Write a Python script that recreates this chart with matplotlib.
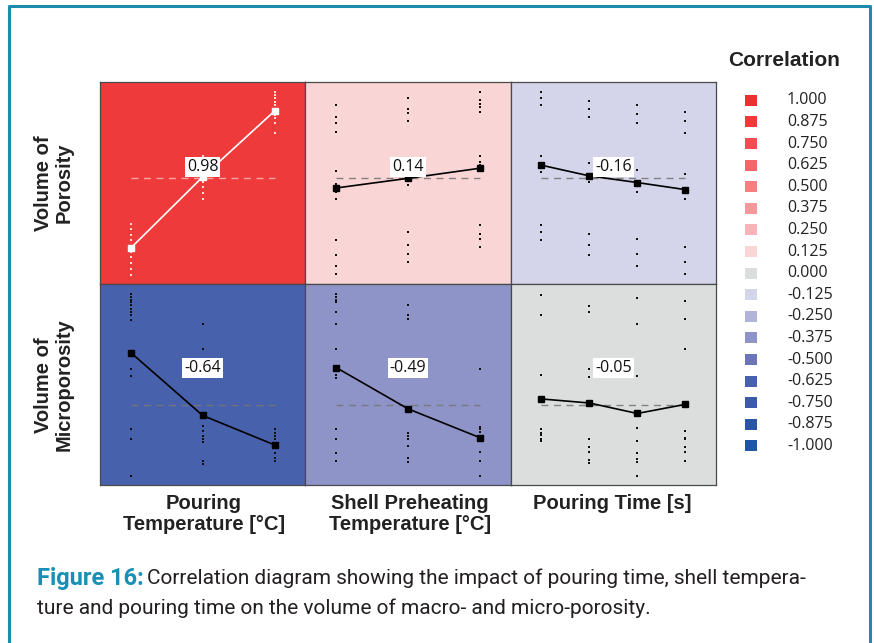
import numpy as np
import matplotlib
matplotlib.use('Agg')
import matplotlib.pyplot as plt
from matplotlib.lines import Line2D

# ---- data (relative response, 0-100) ----
col_labels = ['Pouring\nTemperature [°C]', 'Shell Preheating\nTemperature [°C]', 'Pouring Time [s]']
row_labels = ['Volume of\nPorosity', 'Volume of\nMicroporosity']
corr = [[0.98, 0.14, -0.16],
        [-0.64, -0.49, -0.05]]

# level means
means_por = [[17.6, 52.9, 85.6],
             [47.4, 52.2, 57.2],
             [58.7, 53.4, 50.1, 46.6]]
means_mic = [[65.7, 34.5, 19.9],
             [58.3, 37.8, 23.5],
             [42.7, 40.7, 35.5, 40.0]]
grand_por = 52.2
grand_mic = 39.7

# individual observations per level
obs_por = [
    [[29.5, 26.8, 23.9, 21.4, 18.4, 15.6, 13.1, 10.1, 7.3, 4.3],
     [63.2, 61.2, 58.7, 50.7, 50.2, 47.8, 44.8, 41.8],
     [95.2, 93.5, 91.9, 90.2, 88.6, 85.6, 83.6, 81.9, 79.5, 74.5]],
    [[88.6, 82.7, 79.8, 75.0, 55.9, 49.6, 45.4, 41.8, 21.4, 13.9, 8.6, 4.8],
     [91.9, 86.4, 84.4, 80.6, 52.4, 48.8, 25.5, 18.9, 14.8, 10.6],
     [95.2, 91.0, 89.1, 87.7, 85.2, 63.2, 60.3, 58.7, 28.9, 24.4, 22.2, 18.1]],
    [[95.2, 91.9, 88.6, 63.2, 58.7, 55.4, 29.2, 25.5, 21.4],
     [90.7, 86.4, 82.4, 59.9, 50.4, 24.4, 18.9, 13.9],
     [88.6, 84.1, 79.5, 56.2, 45.4, 22.2, 14.8, 8.5],
     [84.9, 80.6, 74.8, 54.2, 41.8, 18.1, 10.6, 4.5]],
]
obs_mic = [
    [[94.6, 93.3, 92.0, 90.7, 89.2, 87.5, 85.9, 84.2, 82.1, 57.5, 53.9, 27.6, 23.0, 4.6],
     [79.7, 67.3, 34.1, 29.2, 26.7, 24.3, 22.7, 21.3, 12.0, 10.3],
     [27.9, 26.0, 24.3, 22.7, 21.0, 18.6, 16.1, 13.6, 12.0]],
    [[94.6, 93.3, 92.0, 90.8, 85.9, 79.7, 67.3, 58.0, 54.7, 53.1, 27.9, 23.0, 16.1, 12.0],
     [89.2, 84.6, 82.3, 37.4, 25.6, 24.3, 23.0, 19.4, 13.6, 11.2],
     [57.5, 28.9, 27.6, 26.3, 23.5, 16.4, 12.0, 4.6]],
    [[94.4, 84.2, 54.7, 42.7, 27.9, 26.0, 24.6, 23.0, 21.7],
     [88.8, 85.7, 57.5, 53.4, 40.7, 23.0, 19.1, 16.4, 12.5, 10.7],
     [92.8, 79.7, 53.9, 35.5, 28.4, 21.8, 15.8, 13.1, 11.2, 4.6],
     [91.1, 82.3, 67.3, 40.0, 26.7, 23.5, 22.7, 19.1, 16.4, 12.0]],
]

legend_vals = [1.0, 0.875, 0.75, 0.625, 0.5, 0.375, 0.25, 0.125, 0.0,
               -0.125, -0.25, -0.375, -0.5, -0.625, -0.75, -0.875, -1.0]
legend_cols = ['#EE2E2F', '#EF3A3B', '#F04E50', '#F26668', '#F47F81', '#F5989A',
               '#F7B4B6', '#F9D5D6', '#DCDEDD', '#D4D5EA', '#B1B4D9', '#8E94C8',
               '#6D75B9', '#4861AC', '#3D5AA8', '#2956A5', '#1F56A6']


def bin_colour(rho):
    # colour of the legend bin, truncated toward zero
    b = np.fix(rho / 0.125) * 0.125
    return legend_cols[int(np.argmin(np.abs(np.array(legend_vals) - b)))]


fig = plt.figure(figsize=(8.74, 6.43), dpi=100)
gs = fig.add_gridspec(2, 3, left=100/874, right=716/874, top=1-82/643,
                      bottom=1-485/643, wspace=0, hspace=0)

means = [means_por, means_mic]
obs = [obs_por, obs_mic]
grand = [grand_por, grand_mic]

for r in range(2):
    for c in range(3):
        ax = fig.add_subplot(gs[r, c])
        rho = corr[r][c]
        ax.set_facecolor(bin_colour(rho))
        m = means[r][c]
        n = len(m)
        x = np.arange(n)
        pad = 0.15 * (n - 1) / 0.7
        ink = 'white' if rho > 0.8 else 'black'
        dot = '#FAD8D8' if rho > 0.8 else '#111111'
        for i, ys in enumerate(obs[r][c]):
            ax.scatter(np.full(len(ys), i), ys, s=1.2, color=dot, marker='s',
                       linewidths=0, zorder=2)
        dash = '#F7B0B0' if rho > 0.8 else '#777777'
        ax.plot([0, n - 1], [grand[r], grand[r]], ls=(0, (5, 4)), lw=1.0,
                color=dash, alpha=0.9, zorder=1)
        ax.plot(x, m, color=ink, lw=1.2, marker='s', ms=4, zorder=3)
        ax.text(0.5, 0.58, f'{rho:.2f}', transform=ax.transAxes, ha='center',
                va='center', fontsize=11.5, family='Open Sans', color='#111111',
                bbox=dict(facecolor='white', edgecolor='none', pad=1.5), zorder=4)
        ax.set_xlim(-pad, n - 1 + pad)
        ax.set_ylim(0, 100)
        ax.set_xticks([])
        ax.set_yticks([])
        for s in ax.spines.values():
            s.set_color('#4a4a4a')
            s.set_linewidth(0.9)

# axis titles
col_x = [204, 410, 612]
for cx, lab in zip(col_x, col_labels):
    fig.text(cx/874, 1-494/643, lab, ha='center', va='top', fontsize=14.5,
             fontweight='bold', family='Liberation Sans', color='#222222',
             linespacing=1.12)
row_y = [183, 385]
for ry, lab in zip(row_y, row_labels):
    fig.text(54/874, 1-ry/643, lab, ha='center', va='center', rotation=90,
             fontsize=14.5, fontweight='bold', family='Liberation Sans',
             color='#222222', linespacing=1.12)

# legend
fig.text(784/874, 1-61/643, 'Correlation', ha='center', va='center',
         fontsize=15, fontweight='bold', family='Liberation Sans', color='#222222')
for k, (v, col) in enumerate(zip(legend_vals, legend_cols)):
    yy = 1 - (100.3 + k * 21.6) / 643
    fig.patches.append(plt.Rectangle((745/874, yy - 5.5/643), 12/874, 11/643,
                                     transform=fig.transFigure, facecolor=col,
                                     edgecolor='none'))
    fig.text(787/874, yy, f'{v:.3f}', ha='left', va='center', fontsize=11.5,
             family='Open Sans', color='#222222')

# frame
teal = '#1B8CAE'
fig.lines.append(Line2D([8.5/874, 8.5/874, 869.5/874, 869.5/874],
                        [0, 1-6/643, 1-6/643, 0], transform=fig.transFigure,
                        color=teal, lw=2.2))

# caption
cap_font = 'Roboto'
t1 = fig.text(37/874, 1-578/643, 'Figure 16:', ha='left', va='center',
              fontsize=17, fontweight='bold', family=cap_font, color='#1A8FB5')
fig.canvas.draw()
bb = t1.get_window_extent(renderer=fig.canvas.get_renderer())
fig.text((bb.x1 + 3) / 874, 1-578/643,
         'Correlation diagram showing the impact of pouring time, shell tempera-',
         ha='left', va='center', fontsize=15, family=cap_font, color='#231F20')
fig.text(37/874, 1-608/643,
         'ture and pouring time on the volume of macro- and micro-porosity.',
         ha='left', va='center', fontsize=15, family=cap_font, color='#231F20')

fig.savefig('out.png', dpi=100)
